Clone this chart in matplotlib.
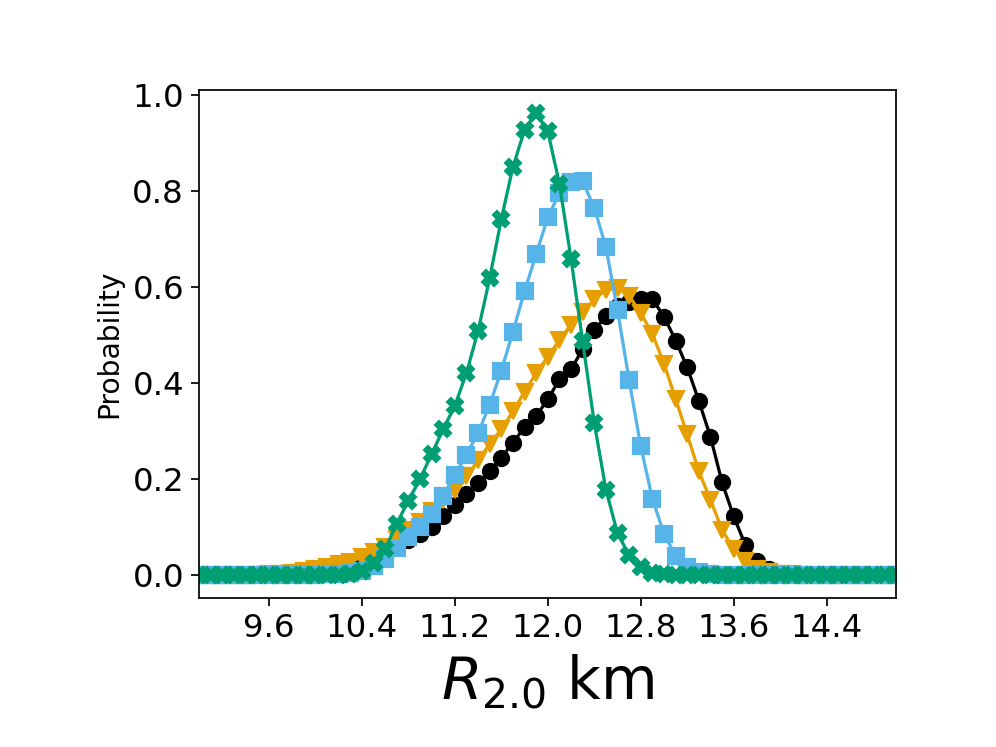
import numpy as np
import matplotlib
matplotlib.use("Agg")
import matplotlib.pyplot as plt

# radius grid (km), 0.1 km bins
radius = np.linspace(9.0, 15.0, 61)

prob_black = [0, 0, 0, 0, 0,
              0.001, 0.002, 0.003, 0.005, 0.007,
              0.010, 0.013, 0.017, 0.022, 0.028, 0.035, 0.045, 0.058, 0.072, 0.085,
              0.100, 0.122, 0.144, 0.167, 0.191, 0.215, 0.244, 0.275, 0.307, 0.331,
              0.365, 0.407, 0.428, 0.470, 0.509, 0.539, 0.560, 0.569, 0.574, 0.574,
              0.538, 0.488, 0.432, 0.362, 0.287, 0.192, 0.121, 0.062, 0.029, 0.012,
              0.004, 0.001,
              0, 0, 0, 0, 0, 0, 0, 0, 0]

prob_orange = [0, 0, 0, 0, 0, 0,
               0.001, 0.002, 0.004, 0.007,
               0.011, 0.016, 0.021, 0.027, 0.036, 0.046, 0.058, 0.075, 0.092, 0.110,
               0.133, 0.155, 0.177, 0.205, 0.238, 0.272, 0.303, 0.340, 0.381, 0.420,
               0.454, 0.489, 0.521, 0.548, 0.574, 0.594, 0.597, 0.581, 0.545, 0.502,
               0.440, 0.366, 0.292, 0.215, 0.156, 0.093, 0.053, 0.028, 0.012, 0.005,
               0.002, 0.001,
               0, 0, 0, 0, 0, 0, 0, 0, 0]

prob_blue = [0, 0, 0, 0, 0, 0, 0, 0, 0, 0, 0,
             0.001, 0.002, 0.004, 0.008, 0.018, 0.033, 0.055, 0.079, 0.100,
             0.127, 0.164, 0.208, 0.250, 0.295, 0.354, 0.425, 0.506, 0.591, 0.668,
             0.745, 0.795, 0.819, 0.820, 0.765, 0.683, 0.551, 0.405, 0.267, 0.158,
             0.085, 0.039, 0.015, 0.005, 0.001,
             0, 0, 0, 0, 0, 0, 0, 0, 0, 0, 0, 0, 0, 0, 0, 0]

prob_green = [0, 0, 0, 0, 0, 0, 0, 0, 0, 0, 0, 0, 0,
              0.002, 0.007, 0.025, 0.053, 0.106, 0.154, 0.199,
              0.251, 0.303, 0.352, 0.420, 0.508, 0.618, 0.741, 0.850, 0.927, 0.963,
              0.924, 0.815, 0.658, 0.486, 0.316, 0.177, 0.086, 0.040, 0.015, 0.004,
              0.001,
              0, 0, 0, 0, 0, 0, 0, 0, 0, 0, 0, 0, 0, 0, 0, 0, 0, 0, 0, 0]

xtick_vals = [9.6, 10.4, 11.2, 12.0, 12.8, 13.6, 14.4]

fig = plt.figure(figsize=(6.4, 4.8), dpi=155.625)
fig.subplots_adjust(left=0.2, bottom=0.2)
ax = fig.add_subplot(111)

ms = 7
ax.plot(radius, prob_black, color="k", marker="o", ms=ms)
ax.plot(radius, prob_orange, color="#E69F00", marker="v", ms=ms)
ax.plot(radius, prob_blue, color="#56B4E9", marker="s", ms=ms)
ax.plot(radius, prob_green, color="#009E73", marker="X", ms=ms)

ax.set_xlim(9.0, 15.0)
ax.set_xticks(xtick_vals)
ax.tick_params(labelsize=15)
ax.set_ylabel("Probability", fontsize=13)
ax.set_xlabel(r"$R_{2.0}$ km", fontsize=27)

plt.savefig("out.png")
